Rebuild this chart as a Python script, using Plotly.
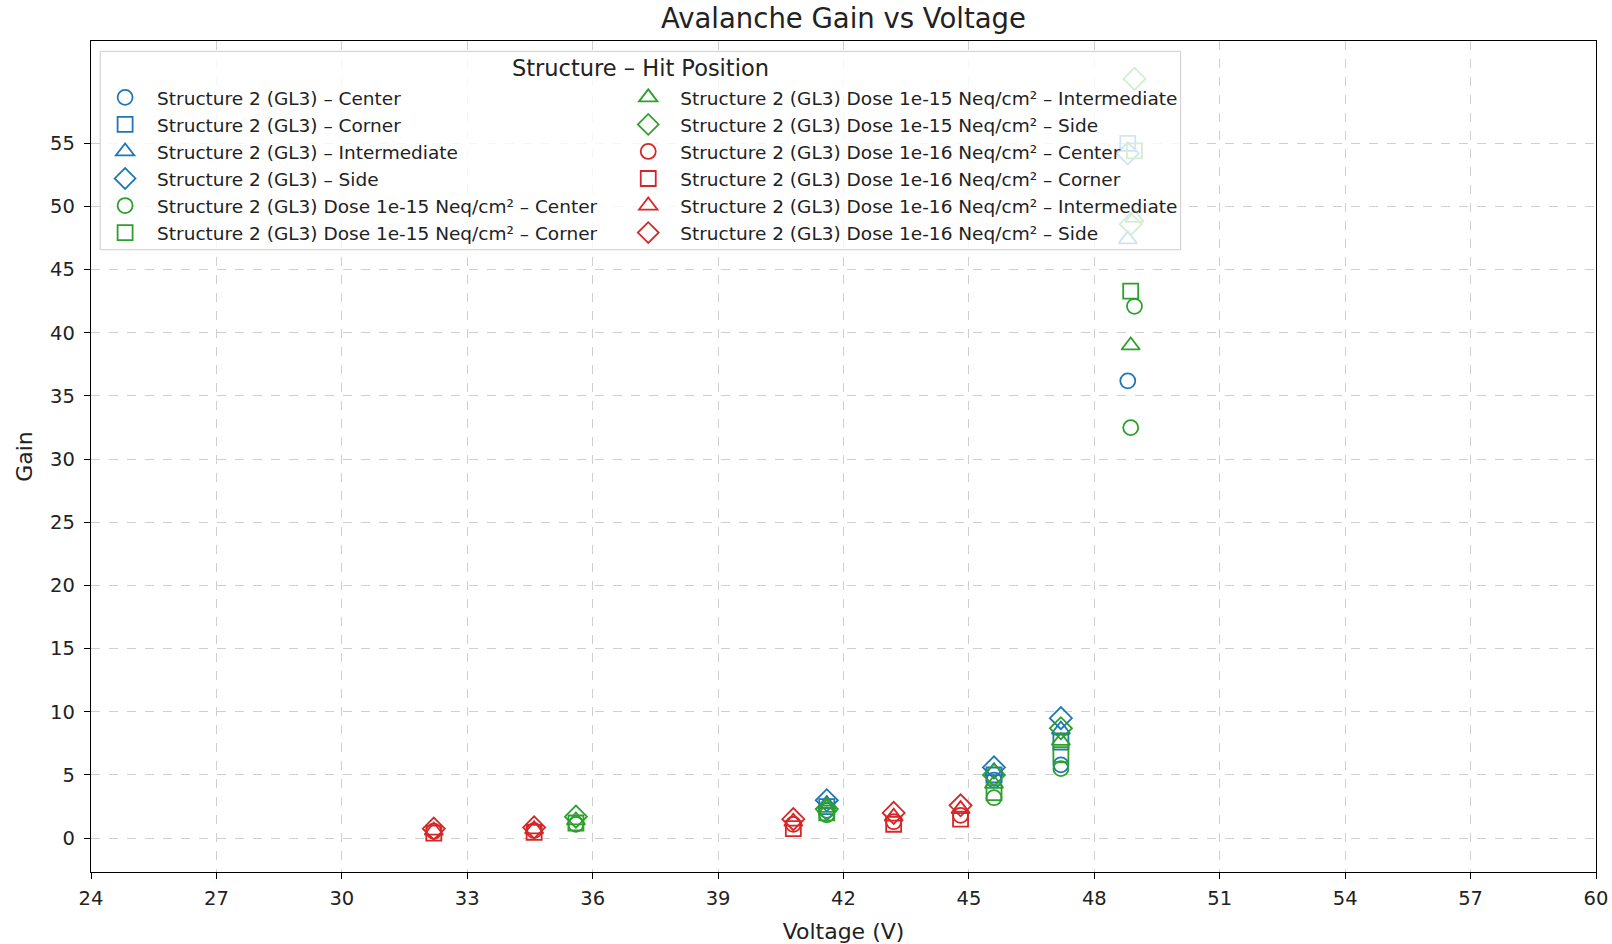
import plotly.graph_objects as go

# ---- data -------------------------------------------------------------
positions = ["Center", "Corner", "Intermediate", "Side"]

# Structure 2 (GL3)
v_gl3 = [41.6, 45.6, 47.2, 48.8]
gain_gl3 = {
    "Center":       [2.2, 4.6, 5.8, 36.2],
    "Corner":       [2.5, 5.0, 7.6, 55.0],
    "Intermediate": [2.7, 5.3, 8.6, 47.4],
    "Side":         [3.0, 5.6, 9.5, 54.2],
}

# Structure 2 (GL3) Dose 1e-15 Neq/cm²
v_d15 = [35.6, 41.6, 45.6, 47.2, 48.87, 48.96]
gain_d15 = {
    "Center":       [1.1, 1.85, 3.2, 5.5, 32.5, 42.1],
    "Corner":       [1.2, 2.0, 3.6, 6.6, 43.3, 54.4],
    "Intermediate": [1.4, 2.4, 4.3, 7.7, 39.0, 49.1],
    "Side":         [1.7, 2.3, 5.0, 8.7, 48.6, 60.1],
}

# Structure 2 (GL3) Dose 1e-16 Neq/cm²
v_d16 = [32.2, 34.6, 40.8, 43.2, 44.8]
gain_d16 = {
    "Center":       [0.55, 0.6, 1.1, 1.3, 1.8],
    "Corner":       [0.4, 0.45, 0.75, 1.1, 1.5],
    "Intermediate": [0.6, 0.7, 1.3, 1.7, 2.3],
    "Side":         [0.75, 0.85, 1.5, 2.0, 2.6],
}

structures = [
    ("Structure 2 (GL3)", v_gl3, gain_gl3, "#1f77b4"),
    ("Structure 2 (GL3) Dose 1e-15 Neq/cm²", v_d15, gain_d15, "#2ca02c"),
    ("Structure 2 (GL3) Dose 1e-16 Neq/cm²", v_d16, gain_d16, "#d62728"),
]

x_ticks = list(range(24, 61, 3))
y_ticks = list(range(0, 56, 5))

# ---- styling ----------------------------------------------------------
symbols = {"Center": "circle-open", "Corner": "square-open",
           "Intermediate": "triangle-up-open", "Side": "diamond-open"}
sizes = {"Center": 15, "Corner": 15, "Intermediate": 16, "Side": 17}
FONT = "DejaVu Sans"
TXT = "#222222"

fig = go.Figure()

# two legend columns of six entries each
n_items = len(structures) * len(positions)
half = n_items // 2
k = 0
for name, volts, gains, color in structures:
    for pos in positions:
        fig.add_trace(go.Scatter(
            x=volts, y=gains[pos], mode="markers",
            name=f"{name} – {pos}",
            legend="legend" if k < half else "legend2",
            marker=dict(symbol=symbols[pos], size=sizes[pos], color=color,
                        line=dict(width=1.8, color=color)),
        ))
        k += 1

axis_common = dict(
    showline=True, linecolor="black", linewidth=1.3, mirror=True,
    ticks="outside", ticklen=6, tickwidth=1.2, tickcolor="black",
    showgrid=True, gridcolor="#cfcfcf", griddash="dash", gridwidth=1,
    zeroline=False, automargin=False, ticklabeloverflow="allow",
    tickfont=dict(family=FONT, size=19.5, color=TXT),
)

legend_common = dict(
    orientation="v", yanchor="top", xanchor="left", y=0.9545,
    itemwidth=54, bgcolor="rgba(0,0,0,0)", borderwidth=0,
    font=dict(family=FONT, size=18.5, color=TXT),
)

fig.update_layout(
    width=1612, height=944,
    margin=dict(l=90.5, r=16.4, t=41.1, b=72.2),
    plot_bgcolor="white", paper_bgcolor="white",
    font=dict(family=FONT, color=TXT),
    title=dict(text="Avalanche Gain vs Voltage", x=0.5, xref="paper",
               xanchor="center", y=0.981, yanchor="middle",
               font=dict(family=FONT, size=27.5, color=TXT)),
    xaxis=dict(range=[24, 60], tickvals=x_ticks, ticklabelstandoff=2,
               title=dict(text="Voltage (V)", standoff=16,
                          font=dict(family=FONT, size=22, color=TXT)),
               **axis_common),
    yaxis=dict(range=[-2.68, 63.1], tickvals=y_ticks, ticklabelstandoff=5,
               title=dict(text="Gain", standoff=11,
                          font=dict(family=FONT, size=22, color=TXT)),
               **axis_common),
    legend=dict(x=0.0014, **legend_common),
    legend2=dict(x=0.349, **legend_common),
    showlegend=True,
    # shared semi-transparent legend frame
    shapes=[dict(type="rect", xref="paper", yref="paper", layer="above",
                 x0=0.0061, x1=0.724, y0=0.7488, y1=0.9876,
                 fillcolor="rgba(255,255,255,0.8)",
                 line=dict(color="#cccccc", width=1))],
    annotations=[dict(text="Structure – Hit Position", xref="paper",
                      yref="paper", x=0.3654, y=0.9677, xanchor="center",
                      yanchor="middle", showarrow=False,
                      font=dict(family=FONT, size=22.5, color=TXT))],
)

fig.write_html("out.html")
